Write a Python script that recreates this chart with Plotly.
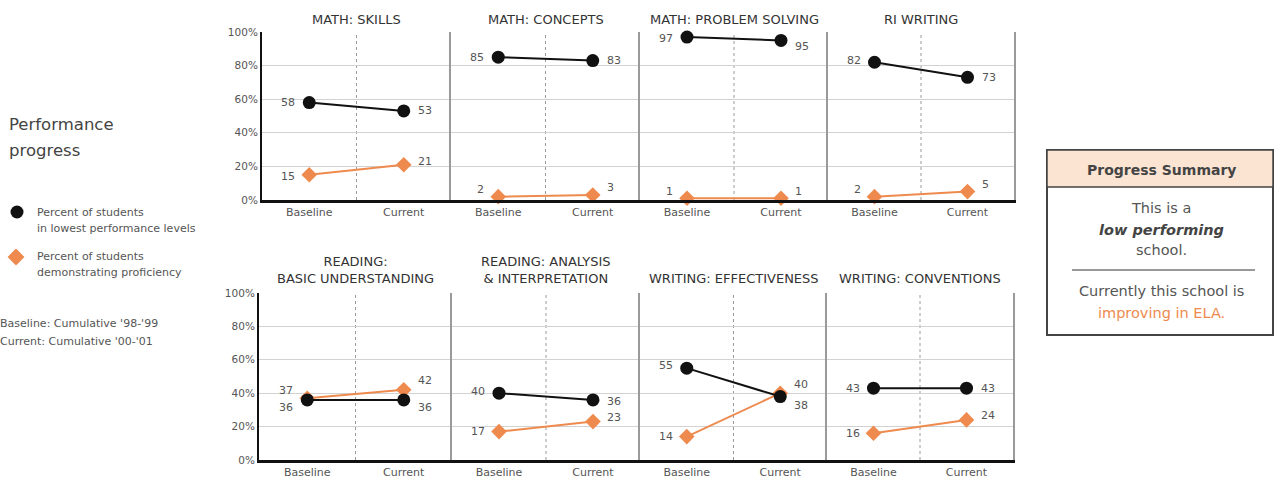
import plotly.graph_objects as go

W, H = 1274, 481

# ---------------- data ----------------
panel_titles = ["MATH: SKILLS", "MATH: CONCEPTS", "MATH: PROBLEM SOLVING", "RI WRITING",
                "READING:<br>BASIC UNDERSTANDING", "READING: ANALYSIS<br>& INTERPRETATION",
                "WRITING: EFFECTIVENESS", "WRITING: CONVENTIONS"]
categories = ["Baseline", "Current"]
lowest_baseline = [58, 85, 97, 82, 36, 40, 55, 43]
lowest_current = [53, 83, 95, 73, 36, 36, 38, 43]
prof_baseline = [15, 2, 1, 2, 37, 17, 14, 16]
prof_current = [21, 3, 1, 5, 42, 23, 40, 24]
y_ticks = [0, 20, 40, 60, 80, 100]
y_tick_labels = ["0%", "20%", "40%", "60%", "80%", "100%"]

# ---------------- style ----------------
FONT = "DejaVu Sans"
BLACK = "#111111"
ORANGE = "#EE8A4E"
TXT = "#555555"
GRID = "#d2d2d2"

def px(x):
    return x / W

def py(y):
    return 1 - y / H

top_x = [(262, 451), (451, 640), (640, 828), (828, 1014)]
bot_x = [(259, 452), (452, 640), (640, 827), (827, 1013)]
top_y = (200, 32)
bot_y = (460, 293)

# label vertical shifts (px) : (lowest baseline, lowest current, prof baseline, prof current)
label_dy = [
    (0, 0, -2, 3),
    (0, 0, 7, 7),
    (-1, -6, 7, 7),
    (2, 0, 7, 7),
    (-8, -8, 8, 9),
    (2, -2, 0, 4),
    (3, -9, 0, 9),
    (0, 0, 0, 4),
]

fig = go.Figure()
annotations = []
shapes = []
layout_axes = {}

for i in range(8):
    n = i + 1
    row = 0 if i < 4 else 1
    col = i % 4
    xd = (top_x if row == 0 else bot_x)[col]
    yd = top_y if row == 0 else bot_y
    xs = "" if n == 1 else str(n)

    layout_axes["xaxis" + xs] = dict(
        domain=[px(xd[0]), px(xd[1])], range=[-0.5, 1.5], anchor="y" + xs,
        tickvals=[0, 1], ticktext=categories, showline=True, linecolor=BLACK,
        linewidth=2.5, ticks="", showgrid=False, zeroline=False, fixedrange=True,
        automargin=False, tickfont=dict(family=FONT, size=11, color=TXT),
    )
    layout_axes["yaxis" + xs] = dict(
        domain=[py(yd[0]), py(yd[1])], range=[0, 100], anchor="x" + xs,
        tickvals=y_ticks, ticktext=y_tick_labels, showticklabels=(col == 0),
        showgrid=True, gridcolor=GRID, gridwidth=1, zeroline=False, ticks="",
        showline=True, linecolor=(BLACK if col == 0 else "#9a9a9a"),
        linewidth=(2 if col == 0 else 1.5), mirror=(col == 3), fixedrange=True,
        automargin=False, tickfont=dict(family=FONT, size=10.5, color=TXT),
    )

    fig.add_trace(go.Scatter(
        x=[0, 1], y=[prof_baseline[i], prof_current[i]], xaxis="x" + xs, yaxis="y" + xs,
        mode="lines+markers", line=dict(color=ORANGE, width=2),
        marker=dict(symbol="diamond", size=12, color=ORANGE),
        cliponaxis=False, showlegend=False, hoverinfo="skip"))
    fig.add_trace(go.Scatter(
        x=[0, 1], y=[lowest_baseline[i], lowest_current[i]], xaxis="x" + xs, yaxis="y" + xs,
        mode="lines+markers", line=dict(color=BLACK, width=2),
        marker=dict(symbol="circle", size=13, color=BLACK),
        cliponaxis=False, showlegend=False, hoverinfo="skip"))

    # center dotted divider
    shapes.append(dict(type="line", xref="x" + xs, yref="y" + xs + " domain",
                       x0=0.5, x1=0.5, y0=0, y1=1,
                       line=dict(color="#9a9a9a", width=1, dash="dot"), layer="below"))

    # data labels
    vals = [(0, lowest_baseline[i]), (1, lowest_current[i]),
            (0, prof_baseline[i]), (1, prof_current[i])]
    for k, (xv, yv) in enumerate(vals):
        annotations.append(dict(
            xref="x" + xs, yref="y" + xs, x=xv, y=yv, text=str(yv), showarrow=False,
            xanchor="right" if xv == 0 else "left", xshift=-12 if xv == 0 else 12,
            yshift=label_dy[i][k], font=dict(family=FONT, size=11, color=TXT)))

    # panel title
    if row == 0:
        ty = 19
    else:
        ty = 270 if "<br>" in panel_titles[i] else 278
    annotations.append(dict(
        xref="x" + xs + " domain", yref="paper", x=0.5, y=py(ty), yanchor="middle",
        text=panel_titles[i], showarrow=False,
        font=dict(family=FONT, size=13, color="#333333")))

# ---------------- left side text / key ----------------
def txt(x, y, s, size=11, color=TXT, xanchor="left", **kw):
    annotations.append(dict(xref="paper", yref="paper", x=px(x), y=py(y), text=s,
                            showarrow=False, xanchor=xanchor, yanchor="middle",
                            font=dict(family=FONT, size=size, color=color), **kw))

txt(7, 125, "Performance", size=16.5, color="#444444")
txt(7, 150, "progress", size=16.5, color="#444444")
txt(35, 212, "Percent of students", size=11)
txt(35, 228, "in lowest performance levels", size=11)
txt(35, 256, "Percent of students", size=11)
txt(35, 272, "demonstrating proficiency", size=11)
txt(-2, 323, "Baseline: Cumulative '98-'99", size=11)
txt(-2, 341, "Current: Cumulative '00-'01", size=11)

# key markers on an overlay axis in pixel space
layout_axes["xaxis9"] = dict(domain=[0, 1], range=[0, W], visible=False, fixedrange=True,
                             anchor="y9", automargin=False)
layout_axes["yaxis9"] = dict(domain=[0, 1], range=[H, 0], visible=False, fixedrange=True,
                             anchor="x9", automargin=False)
fig.add_trace(go.Scatter(x=[17], y=[212], xaxis="x9", yaxis="y9", mode="markers",
                         marker=dict(symbol="circle", size=13, color=BLACK),
                         showlegend=False, hoverinfo="skip"))
fig.add_trace(go.Scatter(x=[16], y=[257], xaxis="x9", yaxis="y9", mode="markers",
                         marker=dict(symbol="diamond", size=13, color=ORANGE),
                         showlegend=False, hoverinfo="skip"))

# ---------------- progress summary box ----------------
bx0, by0, bx1, by1 = 1047, 150, 1273, 335
shapes.append(dict(type="rect", xref="paper", yref="paper", x0=px(bx0), x1=px(bx1),
                   y0=py(by1), y1=py(by0), line=dict(color="#444444", width=2),
                   fillcolor="white"))
shapes.append(dict(type="rect", xref="paper", yref="paper", x0=px(bx0), x1=px(bx1),
                   y0=py(187), y1=py(by0), line=dict(color="#444444", width=1.5),
                   fillcolor="#FCE4D3"))
shapes.append(dict(type="line", xref="paper", yref="paper", x0=px(1072), x1=px(1255),
                   y0=py(270), y1=py(270), line=dict(color="#999999", width=2)))
cx = 1161
txt(cx, 170, "<b>Progress Summary</b>", size=14, color="#444444", xanchor="center")
txt(cx, 208, "This is a", size=14.5, color=TXT, xanchor="center")
txt(cx, 230, "<b><i>low performing</i></b>", size=14.5, color="#444444", xanchor="center")
txt(cx, 250, "school.", size=14.5, color=TXT, xanchor="center")
txt(cx, 291, "Currently this school is", size=14.5, color=TXT, xanchor="center")
txt(cx, 313, "improving in ELA.", size=14.5, color=ORANGE, xanchor="center")

fig.update_layout(
    width=W, height=H, margin=dict(l=0, r=0, t=0, b=0, pad=0, autoexpand=False),
    paper_bgcolor="white", plot_bgcolor="rgba(0,0,0,0)",
    annotations=annotations, shapes=shapes, showlegend=False,
    font=dict(family=FONT, color=TXT),
    **layout_axes,
)

# remove the browser's default 8px page margin so the figure sits at the window origin
fig.write_html("out.html",
               config={"displayModeBar": False},
               post_script="document.body.style.margin='0';document.body.style.overflow='hidden';")
